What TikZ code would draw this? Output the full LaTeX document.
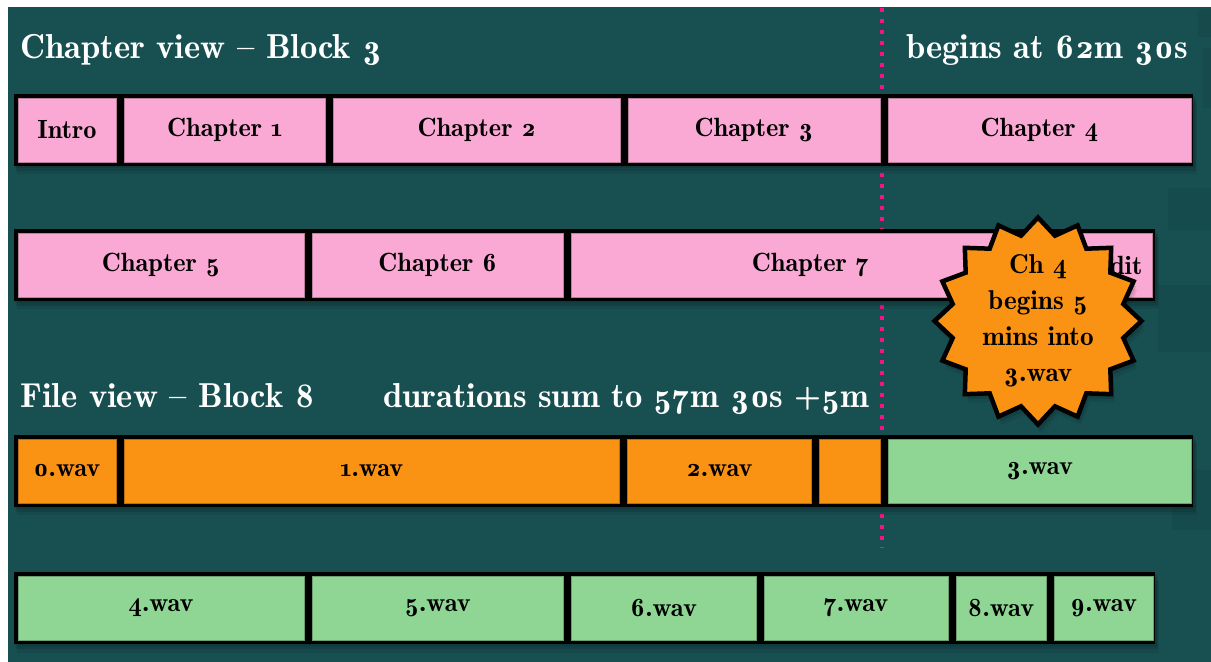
\documentclass[tikz,border=0pt]{standalone}
\usepackage{fontspec}
\setmainfont{Latin Modern Roman}[Numbers=OldStyle]
\newfontfamily\slidefont{lmromandemi10-regular.otf}[Numbers=OldStyle]
\usetikzlibrary{shapes.geometric, positioning, shadows}
\definecolor{slateteal}{RGB}{24,80,82}
\definecolor{chapterpink}{RGB}{250,168,212}
\definecolor{fileorange}{RGB}{250,146,20}
\definecolor{filegreen}{RGB}{143,214,148}
\definecolor{cuepink}{RGB}{245,20,135}

\tikzset{
  cell/.style={rectangle, inner sep=0pt, minimum height=1.28cm, line width=0.3pt,
    font=\slidefont\fontsize{15}{17}\selectfont, text=black},
  chap/.style={cell, fill=chapterpink, draw=chapterpink!75!black},
  orangefile/.style={cell, fill=fileorange, draw=fileorange!75!black},
  greenfile/.style={cell, fill=filegreen, draw=filegreen!75!black},
  softshadow/.style={
    drop shadow={fill=black, opacity=0.10, shadow xshift=0.03cm, shadow yshift=-0.04cm},
    drop shadow={fill=black, opacity=0.10, shadow xshift=0.05cm, shadow yshift=-0.10cm},
    drop shadow={fill=black, opacity=0.08, shadow xshift=0.07cm, shadow yshift=-0.17cm}},
  track/.style={fill=black, softshadow},
  heading/.style={text=white, inner sep=0pt, font=\slidefont\fontsize{19.7}{24}\selectfont},
}

\begin{document}
\begin{tikzpicture}[x=0.02cm, y=-0.02cm]
\useasboundingbox (0,0) rectangle (1211,662);
% slide background
\fill[white] (0,0) rectangle (1211,662);
\fill[slateteal] (8,7) rectangle (1211,662);
\fill[slateteal!92!black] (1198,10) rectangle (1211,37);
\fill[slateteal!92!black] (1203,48) rectangle (1211,108);
\fill[slateteal!94!black] (1168,188) rectangle (1211,230);
\fill[slateteal!94!black] (1158,285) rectangle (1211,352);
\fill[slateteal!94!black] (1172,470) rectangle (1211,530);

% where chapter 4 starts
\coordinate (cuetop) at (882,8);
\coordinate (cuebot) at (882,548);
\draw[cuepink, line width=0.09cm, dash pattern=on 0.09cm off 0.13cm] (cuetop) -- (cuebot);

% headings
\node[heading, anchor=base west] (chapview) at (20,59) {Chapter view – Block 3};
\node[heading, anchor=base east] (beginsat) at (1188,59) {begins at 62m 30s};
\node[heading, anchor=base west] (fileview) at (20,407) {File view – Block 8};
\node[heading, anchor=base west] (sumnote) at (383,407) {durations sum to 57m 30s +5m};

% black tracks
\fill[track] (14,94) rectangle (1193,166);
\fill[track] (14,229) rectangle (1155,301);
\fill[track] (14,435) rectangle (1193,507);
\fill[track] (14,572) rectangle (1155,644);

% chapter view
\node[chap, minimum width=1.96cm] (intro) at (67,130) {Intro};
\node[chap, minimum width=4.03cm, right=0.15cm of intro] (ch1) {Chapter 1};
\node[chap, minimum width=5.73cm, right=0.15cm of ch1] (ch2) {Chapter 2};
\node[chap, minimum width=5.04cm, right=0.15cm of ch2] (ch3) {Chapter 3};
\node[chap, minimum width=6.06cm, right=0.15cm of ch3] (ch4) {Chapter 4};

\node[chap, minimum width=5.72cm] (ch5) at (161,265) {Chapter 5};
\node[chap, minimum width=5.03cm, right=0.15cm of ch5] (ch6) {Chapter 6};
\node[chap, minimum width=9.56cm, right=0.15cm of ch6] (ch7) {Chapter 7};
\node[chap, minimum width=1.90cm, right=0.15cm of ch7] (credit) {Credit};

% file view
\node[orangefile, minimum width=1.96cm] (wav0) at (67,471) {0.wav};
\node[orangefile, minimum width=9.91cm, right=0.15cm of wav0] (wav1) {1.wav};
\node[orangefile, minimum width=3.68cm, right=0.15cm of wav1] (wav2) {2.wav};
\node[orangefile, minimum width=1.22cm, right=0.15cm of wav2] (gap5m) {};
\node[greenfile, minimum width=6.05cm, right=0.15cm of gap5m] (wav3) {3.wav};

\node[greenfile, minimum width=5.72cm] (wav4) at (161,608) {4.wav};
\node[greenfile, minimum width=5.03cm, right=0.15cm of wav4] (wav5) {5.wav};
\node[greenfile, minimum width=3.69cm, right=0.15cm of wav5] (wav6) {6.wav};
\node[greenfile, minimum width=3.68cm, right=0.15cm of wav6] (wav7) {7.wav};
\node[greenfile, minimum width=1.80cm, right=0.15cm of wav7] (wav8) {8.wav};
\node[greenfile, minimum width=1.99cm, right=0.15cm of wav8] (wav9) {9.wav};

% callout burst
\node[star, star points=16, star point ratio=1.19, minimum size=4.14cm, inner sep=0pt,
  fill=fileorange, draw=black, line width=0.09cm, softshadow] (burst) at (1038,321) {};
\node[align=center, font=\slidefont\fontsize{15.5}{20.5}\selectfont] (burstlbl) at (burst.center)
  {Ch 4\\begins 5\\mins into\\3.wav};
\end{tikzpicture}
\end{document}
